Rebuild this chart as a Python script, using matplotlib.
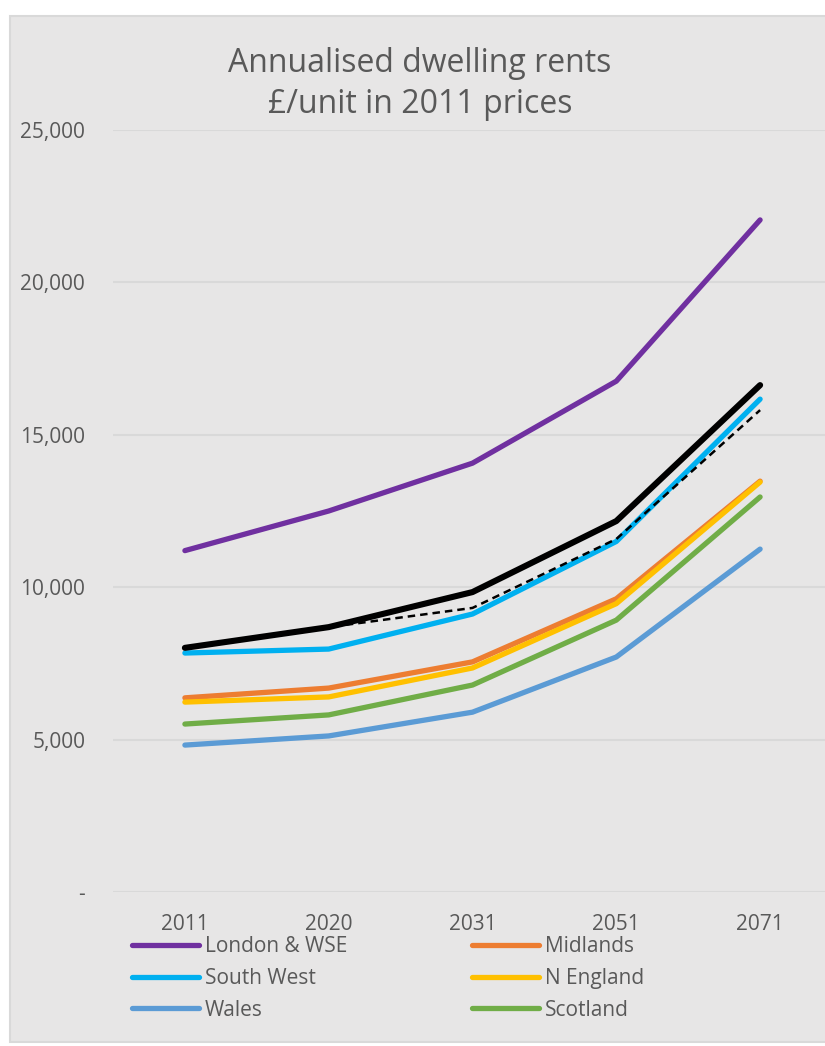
import matplotlib
matplotlib.use("Agg")
import matplotlib.pyplot as plt
from matplotlib.patches import Rectangle
from matplotlib.ticker import FuncFormatter, MultipleLocator

plt.rcParams["font.family"] = ["Open Sans", "DejaVu Sans"]

TEXT = "#595959"
BG = "#E7E6E6"
GRID = "#D9D9D9"

years = ["2011", "2020", "2031", "2051", "2071"]

london = [11200, 12500, 14070, 16760, 22050]
midlands = [6370, 6690, 7550, 9620, 13480]
south_west = [7840, 7970, 9120, 11500, 16170]
n_england = [6230, 6400, 7350, 9460, 13450]
wales = [4820, 5120, 5900, 7710, 11250]
scotland = [5510, 5810, 6790, 8920, 12960]
gb_average = [8010, 8690, 9840, 12170, 16630]
gb_alt = [8010, 8690, 9320, 11580, 15810]

series = [
    ("London & WSE", london, "#7030A0"),
    ("Midlands", midlands, "#ED7D31"),
    ("South West", south_west, "#00B0F0"),
    ("N England", n_england, "#FFC000"),
    ("Wales", wales, "#5B9BD5"),
    ("Scotland", scotland, "#70AD47"),
]

W, H = 825, 1046
fig = plt.figure(figsize=(W / 100, H / 100), dpi=100)
fig.patch.set_facecolor("white")
# chart area background with thin border, as in the spreadsheet export
fig.patches.append(Rectangle((10 / W, 4 / H), 1.0, (1042 - 16) / H,
                             transform=fig.transFigure, facecolor=BG,
                             edgecolor=GRID, linewidth=1.5, zorder=-5))

ax = fig.add_axes([113 / W, 1 - 892 / H, 719 / W, (892 - 130) / H])
ax.patch.set_alpha(0)

x = list(range(len(years)))
handles = {}
for name, vals, col in series:
    (h,) = ax.plot(x, vals, color=col, lw=3.8, solid_capstyle="round",
                   solid_joinstyle="round", label=name, zorder=3)
    handles[name] = h
ax.plot(x, gb_average, color="black", lw=4.4, solid_capstyle="round",
        solid_joinstyle="round", zorder=4)
ax.plot(x, gb_alt, color="black", lw=1.8, ls=(0, (3, 2)), zorder=5)

ax.set_xlim(-0.5, 4.5)
ax.set_ylim(0, 25000)
ax.yaxis.set_major_locator(MultipleLocator(5000))
ax.yaxis.set_major_formatter(FuncFormatter(lambda v, p: "-" if v == 0 else f"{int(v):,}"))
ax.set_xticks(x)
ax.set_xticklabels(years)
ax.grid(axis="y", color=GRID, lw=1.5)
ax.set_axisbelow(True)
for s in ax.spines.values():
    s.set_visible(False)
ax.tick_params(axis="both", length=0, labelsize=15, colors=TEXT)
ax.tick_params(axis="y", pad=20)
ax.tick_params(axis="x", pad=16)

fig.text(420 / W, 1 - 84 / H, "Annualised dwelling rents\n£/unit in 2011 prices",
         ha="center", va="center", fontsize=23, color=TEXT, linespacing=1.3)

order = ["London & WSE", "South West", "Wales", "Midlands", "N England", "Scotland"]
leg = fig.legend([handles[n] for n in order], order, ncol=2,
                 loc="upper left", bbox_to_anchor=(132 / W, 1 - 936 / H),
                 frameon=False, fontsize=15, handlelength=3.2, handletextpad=0.3,
                 columnspacing=6.0, labelspacing=0.52, borderaxespad=0, borderpad=0)
for t in leg.get_texts():
    t.set_color(TEXT)

fig.savefig("out.png", dpi=100, facecolor="white")
